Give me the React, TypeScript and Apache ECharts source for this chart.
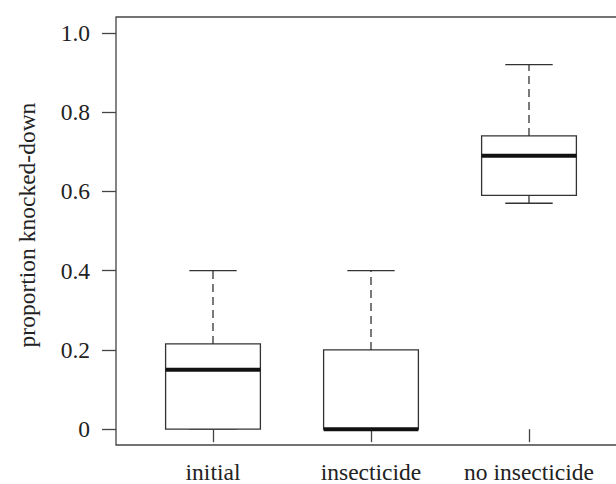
import React, { useEffect, useRef } from "react";
import * as echarts from "echarts";

const categories = ["initial", "insecticide", "no insecticide"];
const lowerWhisker = [0, 0, 0.57];
const q1 = [0, 0, 0.59];
const median = [0.15, 0, 0.69];
const q3 = [0.215, 0.2, 0.74];
const upperWhisker = [0.4, 0.4, 0.92];
const yTicks = [0, 0.2, 0.4, 0.6, 0.8, 1.0];

const FONT = "Liberation Serif";
const FS = 23.5;
const LINE = "#333";

export default function App() {
  const ref = useRef<HTMLDivElement>(null);
  useEffect(() => {
    if (!ref.current) return;
    const chart = echarts.init(ref.current, null, { renderer: "svg" });
    const data = categories.map((c, i) => [i, lowerWhisker[i], q1[i], median[i], q3[i], upperWhisker[i]]);
    chart.setOption({
      animation: false,
      backgroundColor: "#fff",
      grid: { left: 134, width: 474, top: 17, height: 428 },
      graphic: [
        {
          type: "rect",
          shape: { x: 116, y: 17, width: 512, height: 428 },
          style: { fill: "none", stroke: "#444", lineWidth: 1.3 },
          z: 10,
          silent: true,
        },
      ],
      xAxis: {
        type: "category",
        data: categories,
        boundaryGap: true,
        axisLine: { show: false },
        axisTick: { show: true, alignWithLabel: true, length: 13, lineStyle: { color: "#444", width: 1.3 } },
        axisLabel: { interval: 0, margin: 15, fontFamily: FONT, fontSize: FS, color: "#222" },
        splitLine: { show: false },
      },
      yAxis: {
        type: "value",
        min: -0.04,
        max: 1.04,
        offset: 18,
        name: "proportion knocked-down",
        nameLocation: "middle",
        nameGap: 77,
        nameTextStyle: { fontFamily: FONT, fontSize: FS, color: "#222", padding: [0, 0, 0, 12] },
        axisLine: { show: false },
        axisTick: { show: true, length: 14, customValues: yTicks, lineStyle: { color: "#444", width: 1.3 } },
        axisLabel: {
          margin: 26,
          customValues: yTicks,
          fontFamily: FONT,
          fontSize: FS,
          color: "#222",
          formatter: (v: number) => (v === 0 ? "0" : v.toFixed(1)),
        },
        splitLine: { show: false },
      },
      series: [
        {
          type: "custom",
          data,
          encode: { x: 0, y: [1, 2, 3, 4, 5] },
          renderItem: (params: any, api: any) => {
            const idx = api.value(0);
            const band = api.size([1, 0])[0];
            const bw = band * 0.6;
            const cap = bw / 2;
            const [cx, yLw] = api.coord([idx, api.value(1)]);
            const yQ1 = api.coord([idx, api.value(2)])[1];
            const yMed = api.coord([idx, api.value(3)])[1];
            const yQ3 = api.coord([idx, api.value(4)])[1];
            const yUw = api.coord([idx, api.value(5)])[1];
            const solid = { stroke: LINE, lineWidth: 1.3, fill: "none" };
            const dashed = { stroke: LINE, lineWidth: 1.3, lineDash: [8, 5], fill: "none" };
            return {
              type: "group",
              children: [
                { type: "line", shape: { x1: cx, y1: yQ3, x2: cx, y2: yUw }, style: dashed },
                { type: "line", shape: { x1: cx, y1: yQ1, x2: cx, y2: yLw }, style: dashed },
                { type: "line", shape: { x1: cx - cap / 2, y1: yUw, x2: cx + cap / 2, y2: yUw }, style: solid },
                { type: "line", shape: { x1: cx - cap / 2, y1: yLw, x2: cx + cap / 2, y2: yLw }, style: solid },
                {
                  type: "rect",
                  shape: { x: cx - bw / 2, y: yQ3, width: bw, height: yQ1 - yQ3 },
                  style: { stroke: LINE, lineWidth: 1.3, fill: "#fff" },
                },
                { type: "line", shape: { x1: cx - bw / 2, y1: yMed, x2: cx + bw / 2, y2: yMed }, style: { stroke: "#111", lineWidth: 4 } },
              ],
            };
          },
        },
      ],
    });
    return () => chart.dispose();
  }, []);
  return <div ref={ref} style={{ position: "fixed", left: 0, top: 0, width: 616, height: 484 }} />;
}
